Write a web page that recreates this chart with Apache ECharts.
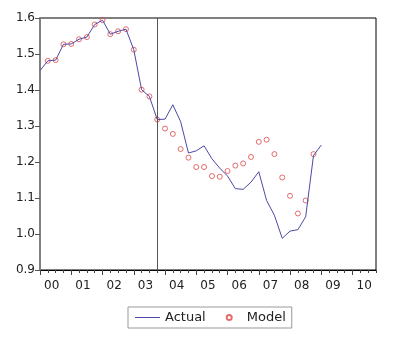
<!DOCTYPE html>
<html>
<head>
<meta charset="utf-8">
<script src="https://cdn.jsdelivr.net/npm/echarts@6/dist/echarts.min.js"></script>
<style>html,body{margin:0;padding:0;background:#fff}#c{width:400px;height:343px}</style>
</head>
<body>
<div id="c"></div>
<script>
// Quarterly categories 2000Q1 .. 2010Q4
var years = ['00','01','02','03','04','05','06','07','08','09','10'];
var quarters = [];
for (var y = 0; y < years.length; y++) { for (var q = 1; q <= 4; q++) { quarters.push('20' + years[y] + 'Q' + q); } }

var actual = [1.454,1.481,1.483,1.527,1.528,1.541,1.547,1.582,1.594,1.555,1.563,1.569,
  1.512,1.401,1.382,1.318,1.319,1.359,1.312,1.225,1.231,1.245,1.209,1.183,
  1.161,1.126,1.124,1.144,1.173,1.093,1.052,0.988,1.008,1.012,1.048,1.218,1.247];
var model = [null,1.481,1.483,1.527,1.528,1.541,1.547,1.582,1.594,1.555,1.563,1.569,
  1.512,1.401,1.382,1.318,1.293,1.278,1.236,1.212,1.186,1.186,1.161,1.159,
  1.175,1.190,1.196,1.214,1.256,1.262,1.222,1.157,1.106,1.057,1.093,1.222];
var splitQuarter = '2003Q4';
var yTicks = [0.9, 1.0, 1.1, 1.2, 1.3, 1.4, 1.5, 1.6];

var chart = echarts.init(document.getElementById('c'), null, {renderer: 'canvas'});
var font = 'DejaVu Sans, sans-serif';
chart.setOption({
  animation: false,
  grid: {left: 40, top: 18, right: 24, bottom: 73, show: true, borderColor: '#000', borderWidth: 1, backgroundColor: '#fff'},
  legend: {
    left: 128, top: 307, padding: [4, 6, 4, 7],
    borderColor: '#999', borderWidth: 1,
    itemWidth: 25, itemHeight: 5, itemGap: 20,
    textStyle: {fontFamily: font, fontSize: 13, color: '#222'},
    data: [
      {name: 'Actual', icon: 'path://M0,0H25V1H0Z', itemStyle: {color: '#4a4aa8', borderWidth: 0}},
      {name: 'Model'}
    ]
  },
  xAxis: [{
    type: 'category', data: quarters, boundaryGap: false,
    axisLine: {lineStyle: {color: '#000', width: 1}},
    axisTick: {show: true, interval: 0, length: 3, lineStyle: {color: '#444'}},
    axisLabel: {
      interval: function (i) { return i % 4 === 2; },
      formatter: function (v) { return v.substr(2, 2); },
      fontFamily: font, fontSize: 12, color: '#222', margin: 10,
      padding: [0, 8, 0, 0]
    },
    splitLine: {show: false}
  }, {
    type: 'category', data: quarters, boundaryGap: false, position: 'bottom',
    axisLine: {show: false},
    axisTick: {show: true, interval: function (i) { return i % 4 === 0; }, length: 5, lineStyle: {color: '#444'}},
    axisLabel: {show: false}, splitLine: {show: false}
  }],
  yAxis: {
    type: 'value', min: 0.9, max: 1.6, interval: 0.1,
    axisLine: {show: true, lineStyle: {color: '#808080', width: 2}},
    axisTick: {show: true, length: 5, lineStyle: {color: '#555'}},
    axisLabel: {fontFamily: font, fontSize: 12, color: '#222', margin: 5,
      formatter: function (v) { return v.toFixed(1); }},
    splitLine: {show: false}
  },
  series: [{
    name: 'Actual', type: 'line', data: actual, symbol: 'none',
    lineStyle: {color: '#4a4aa8', width: 1}, itemStyle: {color: '#4a4aa8'},
    markLine: {
      silent: true, symbol: ['none', 'none'], label: {show: false},
      lineStyle: {color: '#555', width: 1, type: 'solid'},
      data: [{xAxis: splitQuarter}]
    }
  }, {
    name: 'Model', type: 'scatter', data: model, symbol: 'circle', symbolSize: 5,
    itemStyle: {color: 'rgba(255,255,255,0)', borderColor: '#e04848', borderWidth: 1}
  }]
});
</script>
</body>
</html>
